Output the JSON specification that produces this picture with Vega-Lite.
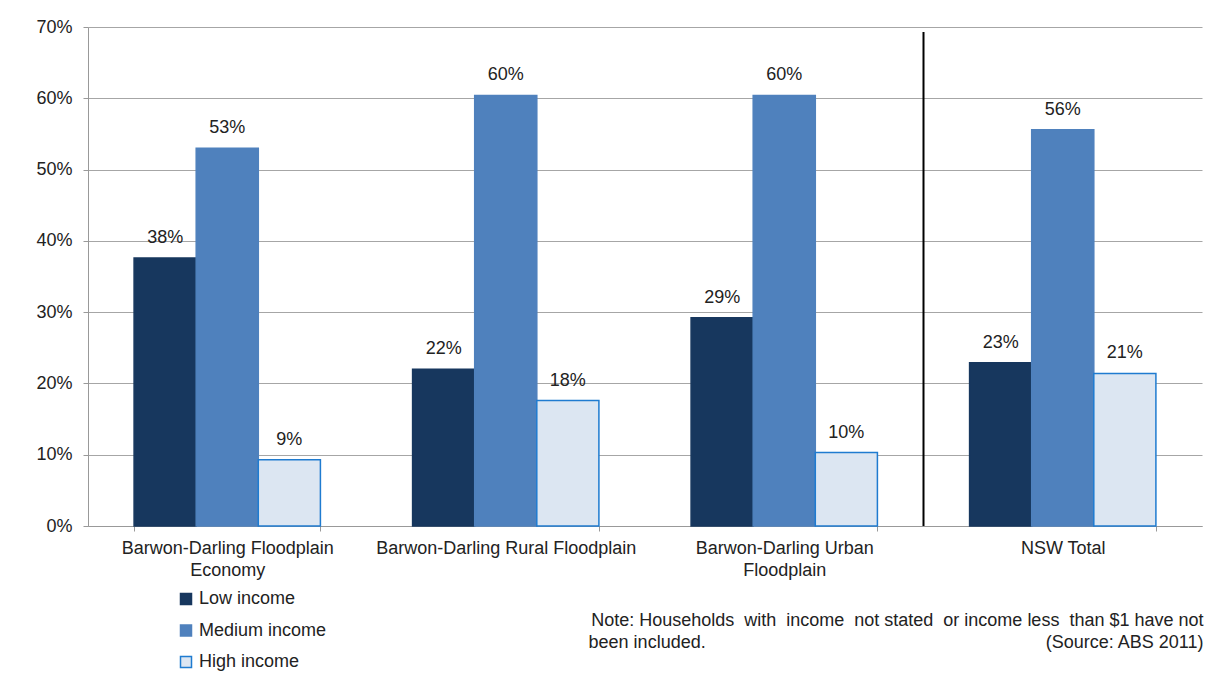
{
  "$schema": "https://vega.github.io/schema/vega-lite/v6.json",
  "width": 1114,
  "height": 499,
  "autosize": {"type": "none"},
  "padding": {"left": 88, "top": 27, "right": 7, "bottom": 147},
  "background": "white",
  "config": {
    "font": "Liberation Sans",
    "view": {"stroke": null},
    "axis": {"labelFont": "Liberation Sans", "titleFont": "Liberation Sans"}
  },
  "datasets": {
    "bars": [
      {"region": "Barwon-Darling Floodplain Economy", "income": "Low income", "value": 0.376},
      {"region": "Barwon-Darling Floodplain Economy", "income": "Medium income", "value": 0.53},
      {"region": "Barwon-Darling Floodplain Economy", "income": "High income", "value": 0.093},
      {"region": "Barwon-Darling Rural Floodplain", "income": "Low income", "value": 0.22},
      {"region": "Barwon-Darling Rural Floodplain", "income": "Medium income", "value": 0.604},
      {"region": "Barwon-Darling Rural Floodplain", "income": "High income", "value": 0.176},
      {"region": "Barwon-Darling Urban Floodplain", "income": "Low income", "value": 0.292},
      {"region": "Barwon-Darling Urban Floodplain", "income": "Medium income", "value": 0.604},
      {"region": "Barwon-Darling Urban Floodplain", "income": "High income", "value": 0.103},
      {"region": "NSW Total", "income": "Low income", "value": 0.229},
      {"region": "NSW Total", "income": "Medium income", "value": 0.556},
      {"region": "NSW Total", "income": "High income", "value": 0.214}
    ],
    "divider": [
      {"region": "NSW Total", "top": 0.693, "bottom": 0}
    ]
  },
  "layer": [
    {
      "data": {"name": "bars"},
      "encoding": {
        "x": {
          "field": "region",
          "type": "nominal",
          "sort": ["Barwon-Darling Floodplain Economy", "Barwon-Darling Rural Floodplain", "Barwon-Darling Urban Floodplain", "NSW Total"],
          "scale": {"paddingInner": 0.331, "paddingOuter": 0.1655},
          "axis": {
            "labelAngle": 0,
            "labelFontSize": 18,
            "labelColor": "#222222",
            "labelPadding": 8,
            "labelLineHeight": 22,
            "labelLimit": 400,
            "labelExpr": "datum.label == 'Barwon-Darling Floodplain Economy' ? ['Barwon-Darling Floodplain', 'Economy'] : datum.label == 'Barwon-Darling Urban Floodplain' ? ['Barwon-Darling Urban', 'Floodplain'] : datum.label",
            "tickBand": "extent",
            "tickSize": 5,
            "tickColor": "#999999",
            "domainColor": "#999999",
            "grid": false,
            "title": ["Note: Households\u00a0 with\u00a0 income\u00a0 not stated\u00a0 or income less\u00a0 than $1 have not", "been included.\u00a0\u00a0\u00a0\u00a0\u00a0\u00a0\u00a0\u00a0\u00a0\u00a0\u00a0\u00a0\u00a0\u00a0\u00a0\u00a0\u00a0\u00a0\u00a0\u00a0\u00a0\u00a0\u00a0\u00a0\u00a0\u00a0\u00a0\u00a0\u00a0\u00a0\u00a0\u00a0\u00a0\u00a0\u00a0\u00a0\u00a0\u00a0\u00a0\u00a0\u00a0\u00a0\u00a0\u00a0\u00a0\u00a0\u00a0\u00a0\u00a0\u00a0\u00a0\u00a0\u00a0\u00a0\u00a0\u00a0\u00a0\u00a0\u00a0\u00a0\u00a0\u00a0\u00a0\u00a0\u00a0\u00a0\u00a0\u00a0(Source: ABS 2011)"],
            "titleFontSize": 18,
            "titleFontWeight": "normal",
            "titleColor": "#222222",
            "titleAlign": "right",
            "titleAnchor": null,
            "titleBaseline": "middle",
            "titleLineHeight": 22,
            "titleX": 1115,
            "titleY": 94
          }
        },
        "xOffset": {
          "field": "income",
          "type": "nominal",
          "sort": ["Low income", "Medium income", "High income"],
          "scale": {"paddingInner": 0, "paddingOuter": 0}
        },
        "y": {
          "field": "value",
          "type": "quantitative",
          "scale": {"domain": [0, 0.7], "nice": false},
          "axis": {
            "values": [0, 0.1, 0.2, 0.3, 0.4, 0.5, 0.6, 0.7],
            "format": ".0%",
            "labelFontSize": 18,
            "labelColor": "#222222",
            "labelPadding": 11,
            "tickSize": 5,
            "tickColor": "#999999",
            "domainColor": "#999999",
            "gridColor": "#A6A6A6",
            "grid": true,
            "title": null
          }
        }
      },
      "layer": [
        {
          "mark": {"type": "bar", "strokeWidth": 1.5},
          "encoding": {
            "color": {
              "field": "income",
              "type": "nominal",
              "sort": ["Low income", "Medium income", "High income"],
              "scale": {"domain": ["Low income", "Medium income", "High income"], "range": ["#17375E", "#4F81BD", "#DCE6F2"]},
              "legend": {
                "orient": "none",
                "legendX": 89,
                "legendY": 563,
                "direction": "vertical",
                "title": null,
                "symbolType": "square",
                "symbolSize": 121,
                "symbolStrokeWidth": 1.5,
                "labelFontSize": 18,
                "labelColor": "#222222",
                "labelOffset": 4,
                "rowPadding": 13.5,
                "padding": 0
              }
            },
            "stroke": {
              "field": "income",
              "type": "nominal",
              "sort": ["Low income", "Medium income", "High income"],
              "scale": {"domain": ["Low income", "Medium income", "High income"], "range": ["#17375E", "#4F81BD", "#1F7BD0"]}
            }
          }
        },
        {
          "mark": {"type": "text", "baseline": "middle", "dy": -20, "fontSize": 18, "color": "#222222"},
          "encoding": {
            "text": {"field": "value", "type": "quantitative", "format": ".0%"}
          }
        }
      ]
    },
    {
      "data": {"name": "divider"},
      "mark": {"type": "rule", "color": "black", "strokeWidth": 2},
      "encoding": {
        "x": {
          "field": "region",
          "type": "nominal",
          "bandPosition": 0,
          "scale": {"domain": ["Barwon-Darling Floodplain Economy", "Barwon-Darling Rural Floodplain", "Barwon-Darling Urban Floodplain", "NSW Total"], "paddingInner": 0, "paddingOuter": 0},
          "axis": null
        },
        "y": {"field": "top", "type": "quantitative"},
        "y2": {"field": "bottom"}
      }
    }
  ],
  "resolve": {"scale": {"x": "independent"}}
}
